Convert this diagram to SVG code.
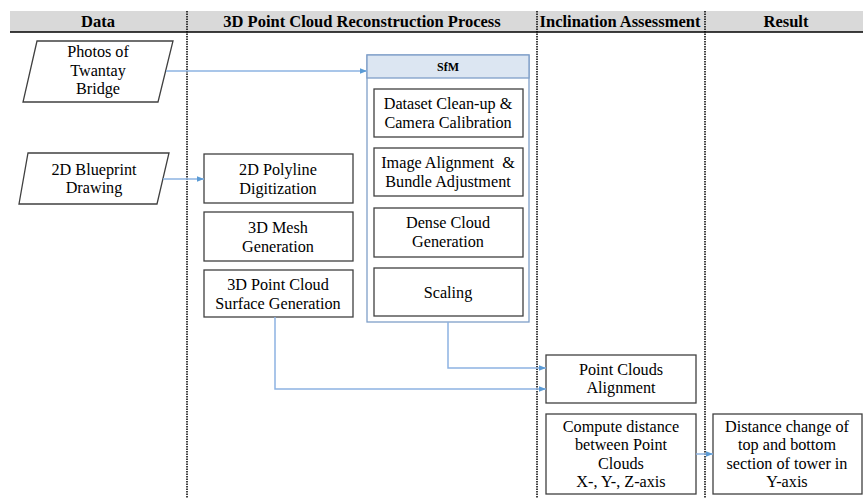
<svg xmlns="http://www.w3.org/2000/svg" width="863" height="498" viewBox="0 0 863 498">
<style>
text{font-family:"Liberation Serif","Tinos","Times New Roman","DejaVu Serif",serif}
.t{font-size:16.2px;fill:#000;text-anchor:middle}
.h{font-size:16.5px;font-weight:bold;fill:#000;text-anchor:middle}
.box{fill:#fff;stroke:#404040;stroke-width:1.3}
.div{stroke:#000;stroke-width:1.5;stroke-dasharray:1.5 1;fill:none}
.con{fill:none;stroke:#8db3e2;stroke-width:1.5}
</style>
<defs>
<marker id="ah" viewBox="0 0 10 10" refX="10" refY="5" markerWidth="7" markerHeight="7" markerUnits="userSpaceOnUse" orient="auto">
<path d="M0,1 L10,5 L0,9 z" fill="#5b9bd5"/>
</marker>
</defs>
<rect width="863" height="498" fill="#fff"/>
<g id="header">
<rect x="10" y="11" width="853" height="21" fill="#d9d9d9"/>
<line x1="10" y1="32" x2="863" y2="32" stroke="#000" stroke-width="1.5"/>
<text class="h" x="98" y="27">Data</text>
<text class="h" x="362" y="27">3D Point Cloud Reconstruction Process</text>
<text class="h" x="620" y="27">Inclination Assessment</text>
<text class="h" x="786" y="27">Result</text>
</g>
<g id="dividers">
<line class="div" x1="187" y1="11" x2="187" y2="498"/>
<line class="div" x1="537" y1="11" x2="537" y2="498"/>
<line class="div" x1="705" y1="11" x2="705" y2="498"/>
</g>
<g id="photos">
<polygon class="box" points="37,41 173,41 158,102 23,102"/>
<text class="t" x="98" y="57">Photos of</text>
<text class="t" x="98" y="76">Twantay</text>
<text class="t" x="98" y="94">Bridge</text>
</g>
<g id="blueprint">
<polygon class="box" points="28,153 169,153 157,204 19,204"/>
<text class="t" x="94" y="175">2D Blueprint</text>
<text class="t" x="94" y="193">Drawing</text>
</g>
<g id="sfm">
<rect x="367" y="55" width="162" height="267" fill="#fff" stroke="#7f9fc8" stroke-width="1.3"/>
<rect x="367" y="55" width="162" height="23" fill="#dce6f2" stroke="#7f9fc8" stroke-width="1.3"/>
<text class="h" x="448" y="71" style="font-size:12px">SfM</text>
</g>
<g id="dataset">
<rect class="box" x="374" y="89" width="149" height="48"/>
<text class="t" x="448" y="109">Dataset Clean-up &amp;</text>
<text class="t" x="448" y="128">Camera Calibration</text>
</g>
<g id="imagealign">
<rect class="box" x="374" y="148" width="149" height="48"/>
<text class="t" x="448" y="168" xml:space="preserve">Image Alignment  &amp;</text>
<text class="t" x="448" y="187">Bundle Adjustment</text>
</g>
<g id="dense">
<rect class="box" x="374" y="208" width="149" height="49"/>
<text class="t" x="448" y="228">Dense Cloud</text>
<text class="t" x="448" y="247">Generation</text>
</g>
<g id="scaling">
<rect class="box" x="374" y="268" width="149" height="48"/>
<text class="t" x="448" y="298">Scaling</text>
</g>
<g id="polyline">
<rect class="box" x="204" y="154" width="149" height="49"/>
<text class="t" x="278" y="175">2D Polyline</text>
<text class="t" x="278" y="194">Digitization</text>
</g>
<g id="mesh">
<rect class="box" x="204" y="212" width="149" height="49"/>
<text class="t" x="278" y="233">3D Mesh</text>
<text class="t" x="278" y="252">Generation</text>
</g>
<g id="surface">
<rect class="box" x="204" y="270" width="149" height="47"/>
<text class="t" x="278" y="290">3D Point Cloud</text>
<text class="t" x="278" y="309">Surface Generation</text>
</g>
<g id="alignment">
<rect class="box" x="546" y="355" width="150" height="48"/>
<text class="t" x="621" y="375">Point Clouds</text>
<text class="t" x="621" y="393">Alignment</text>
</g>
<g id="compute">
<rect class="box" x="546" y="414" width="150" height="80"/>
<text class="t" x="621" y="432">Compute distance</text>
<text class="t" x="621" y="450">between Point</text>
<text class="t" x="621" y="469">Clouds</text>
<text class="t" x="621" y="487">X-, Y-, Z-axis</text>
</g>
<g id="result">
<rect class="box" x="713" y="414" width="149" height="80"/>
<text class="t" x="787" y="432">Distance change of</text>
<text class="t" x="787" y="450">top and bottom</text>
<text class="t" x="787" y="469">section of tower in</text>
<text class="t" x="787" y="487">Y-axis</text>
</g>
<g id="connectors">
<path class="con" d="M166,71 H367" marker-end="url(#ah)"/>
<path class="con" d="M163,179 H204" marker-end="url(#ah)"/>
<path class="con" d="M448,322 V368 H546" marker-end="url(#ah)"/>
<path class="con" d="M275,317 V389 H546" marker-end="url(#ah)"/>
<path class="con" d="M696,454 H713" marker-end="url(#ah)"/>
</g>
</svg>
